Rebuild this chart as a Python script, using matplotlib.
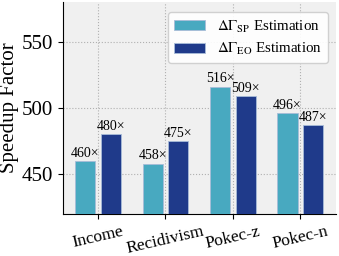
import matplotlib
matplotlib.use("Agg")
import matplotlib.pyplot as plt
import numpy as np

categories = ["Income", "Recidivism", "Pokec-z", "Pokec-n"]
sp_values = [460, 458, 516, 496]
eo_values = [480, 475, 509, 487]
yticks = [450, 500, 550]

plt.rcParams['font.family'] = ['Liberation Serif', 'DejaVu Serif']
plt.rcParams['mathtext.fontset'] = 'stix'

fig = plt.figure(figsize=(3.39, 2.56), dpi=100)
ax = fig.add_axes([0.186, 0.164, 0.805, 0.829])
ax.set_facecolor('#F0F0F0')

x = np.arange(len(categories))
w = 0.3
off = 0.19
c_sp = '#48A9C0'
c_eo = '#1F3A8A'
b1 = ax.bar(x - off, sp_values, w, color=c_sp, edgecolor='#A8BCD8', linewidth=0.6,
            label=r'$\Delta\Gamma_{\mathrm{SP}}$ Estimation', zorder=3)
b2 = ax.bar(x + off, eo_values, w, color=c_eo, edgecolor='#A8BCD8', linewidth=0.6,
            label=r'$\Delta\Gamma_{\mathrm{EO}}$ Estimation', zorder=3)
for rects, vals in ((b1, sp_values), (b2, eo_values)):
    for r, v in zip(rects, vals):
        ax.text(r.get_x() + r.get_width() / 2, v + 1, f"{v}×", ha='center', va='bottom',
                fontsize=10, zorder=4)

ax.set_ylim(420, 580)
ax.set_xlim(-0.52, 3.53)
ax.set_yticks(yticks)
ax.set_xticks(x)
ax.set_xticklabels(categories, rotation=13, fontsize=12.5)
ax.tick_params(axis='y', labelsize=15)
ax.set_ylabel('Speedup Factor', fontsize=15, labelpad=2)
ax.grid(True, linestyle=':', color='#B0B0B0', linewidth=0.8, zorder=0)
ax.set_axisbelow(True)
for s in ['top', 'right']:
    ax.spines[s].set_visible(False)
ax.legend(loc='upper right', fontsize=10.8, frameon=True, framealpha=0.9,
          handlelength=2.1, borderpad=0.4, labelspacing=0.45, handletextpad=0.8,
          bbox_to_anchor=(1.0, 0.985))
fig.savefig('out.png', dpi=100)
